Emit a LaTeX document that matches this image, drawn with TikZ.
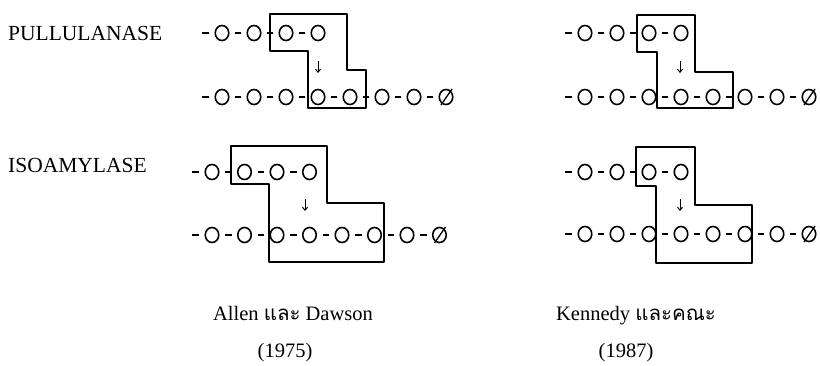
\documentclass[tikz,border=0pt]{standalone}
\usepackage{fontspec}
\setmainfont{Liberation Serif}
\newfontfamily\thaifont[Script=Thai]{Loma}
\usetikzlibrary{shapes.geometric,arrows.meta}
\tikzset{
  ring/.style={draw, ellipse, minimum width=13.5pt, minimum height=15pt, inner sep=0pt, line width=1.6pt},
  bond/.style={line width=1.6pt, shorten >=5pt, shorten <=5.5pt},
  frame/.style={line width=1.3pt, line join=round},
  downarrow/.style={line width=1pt, -{Straight Barb[length=3pt,width=5pt]}},
  lab/.style={anchor=base west, font=\fontsize{21.5}{24}\selectfont, inner sep=0pt},
  captxt/.style={anchor=base, font=\fontsize{20.5}{23}\selectfont, inner sep=0pt}
}
% #1 prefix, #2 x of first ring, #3 spacing, #4 y, #5 number of rings
\newcommand{\mychain}[5]{%
  \coordinate (#1s) at ({#2-#3},#4);
  \foreach \i in {1,...,#5}{\node[ring] (#1\i) at ({#2+(\i-1)*#3},#4) {};}
  \draw[line width=1.6pt, shorten <=12pt, shorten >=5pt] (#1s) -- (#11);
  \pgfmathtruncatemacro\mylast{#5-1}%
  \foreach \i in {1,...,\mylast}{\pgfmathtruncatemacro\j{\i+1}\draw[bond] (#1\i) -- (#1\j);}
}
\newcommand{\mynull}[1]{%
  \draw[line width=1.3pt] ([xshift=-5pt,yshift=-8pt]#1.center) -- ([xshift=6pt,yshift=8pt]#1.center);
}
\begin{document}
\begin{tikzpicture}[x=1pt,y=-1pt]
\useasboundingbox (0,0) rectangle (820,366);
% labels
\node[lab] (pul) at (8,41) {PULLULANASE};
\node[lab] (iso) at (8,173) {ISOAMYLASE};
% panel 1: Allen, pullulanase
\mychain{a}{222}{32}{33}{4}
\mychain{b}{222}{32}{97}{8}
\mynull{b8}
\draw[frame] (270,14) -- (347,14) -- (347,70) -- (366,70) -- (366,108) -- (308,108) -- (308,51) -- (270,51) -- cycle;
\coordinate (ar1) at (318,61); \coordinate (ar1e) at (318,73);
\draw[downarrow] (ar1) -- (ar1e);
% panel 2: Kennedy, pullulanase
\mychain{c}{585}{32}{33}{4}
\mychain{d}{585}{32}{97}{8}
\mynull{d8}
\draw[frame] (637,15) -- (695,15) -- (695,72) -- (733,72) -- (733,108) -- (657,108) -- (657,52) -- (637,52) -- cycle;
\coordinate (ar2) at (680,61); \coordinate (ar2e) at (680,73);
\draw[downarrow] (ar2) -- (ar2e);
% panel 3: Allen, isoamylase
\mychain{e}{212}{32.5}{172}{4}
\mychain{f}{212}{32.5}{235}{8}
\mynull{f8}
\draw[frame] (231,146) -- (327,146) -- (327,203) -- (384,203) -- (384,262) -- (269,262) -- (269,184) -- (231,184) -- cycle;
\coordinate (ar3) at (305,199); \coordinate (ar3e) at (305,211);
\draw[downarrow] (ar3) -- (ar3e);
% panel 4: Kennedy, isoamylase
\mychain{g}{585}{32}{172}{4}
\mychain{h}{585}{32}{234}{8}
\mynull{h8}
\draw[frame] (636,147) -- (695,147) -- (695,205) -- (752,205) -- (752,263) -- (656,263) -- (656,186) -- (636,186) -- cycle;
\coordinate (ar4) at (680,199); \coordinate (ar4e) at (680,211);
\draw[downarrow] (ar4) -- (ar4e);
% captions
\node[captxt] (c1) at (293,321) {Allen {\thaifont และ} Dawson};
\node[captxt] (y1) at (285,357) {(1975)};
\node[captxt] (c2) at (636,321) {Kennedy {\thaifont และคณะ}};
\node[captxt] (y2) at (626,357) {(1987)};
\end{tikzpicture}
\end{document}
